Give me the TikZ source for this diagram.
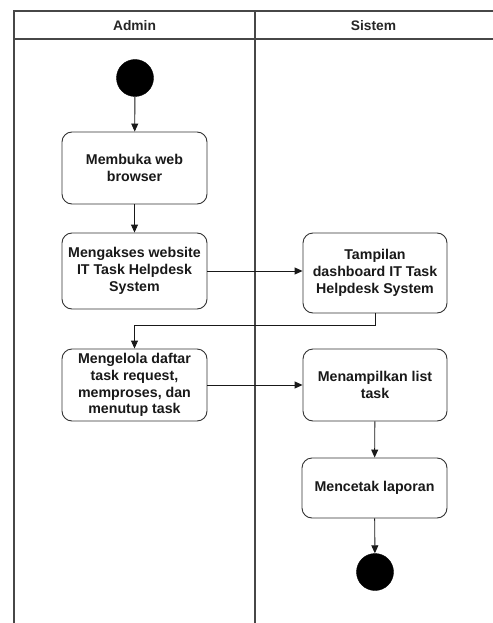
\documentclass[tikz,border=0pt]{standalone}
\usepackage{fontspec}
\setmainfont{Liberation Sans}
\usetikzlibrary{arrows.meta}
\begin{document}
\begin{tikzpicture}[x=1pt,y=-1pt,
  lane/.style={draw=black!72, line width=1.1pt},
  act/.style={draw=black!80, line width=0.9pt, rounded corners=10pt, align=center,
    inner sep=0pt, font=\fontsize{14.2}{16.7}\selectfont\bfseries, text=black!90},
  hdr/.style={font=\fontsize{13.8}{16}\selectfont\bfseries, text=black!85},
  dot/.style={circle, fill=black, draw=black, inner sep=0pt, minimum size=37pt},
  flow/.style={draw=black!90, line width=0.9pt, -{Triangle[length=8pt,width=7pt]}},
  plain/.style={draw=black!90, line width=0.9pt}]
\useasboundingbox (0,0) rectangle (492,623);
\fill[white] (0,0) rectangle (492,623);
% swimlanes
\draw[lane] (14,623) -- (14,11) -- (496,11);
\draw[lane] (14,39) -- (496,39);
\draw[lane] (255,11) -- (255,623);
\node[hdr] (hA) at (134.5,25.5) {Admin};
\node[hdr] (hS) at (373.5,25.5) {Sistem};
% nodes
\node[dot] (start) at (135,78) {};
\node[act, minimum width=145pt, minimum height=72pt] (b1) at (134.5,168) {Membuka web\\browser};
\node[act, minimum width=145pt, minimum height=76pt] (b2) at (134.5,271) {Mengakses website\\IT Task Helpdesk\\System};
\node[act, minimum width=144pt, minimum height=80pt] (b3) at (375,273) {Tampilan\\dashboard IT Task\\Helpdesk System};
\node[act, minimum width=145pt, minimum height=72pt] (b4) at (134.5,385) {Mengelola daftar\\task request,\\memproses, dan\\menutup task};
\node[act, minimum width=144pt, minimum height=72pt] (b5) at (375,385) {Menampilkan list\\task};
\node[act, minimum width=145pt, minimum height=60pt] (b6) at (374.5,488) {Mencetak laporan};
\node[dot] (end) at (375,572) {};
% connectors
\draw[flow] (start) -- (b1);
\draw[flow] (b1) -- (b2);
\draw[flow] (b2.east) -- (b2.east -| b3.west);
\coordinate (k) at (375,325);
\draw[flow] (b3.south) -- (k) -| (b4.north);
\draw[flow] (b4.east) -- (b4.east -| b5.west);
\draw[flow] (b5) -- (b6);
\draw[flow] (b6) -- (end);
\end{tikzpicture}
\end{document}
